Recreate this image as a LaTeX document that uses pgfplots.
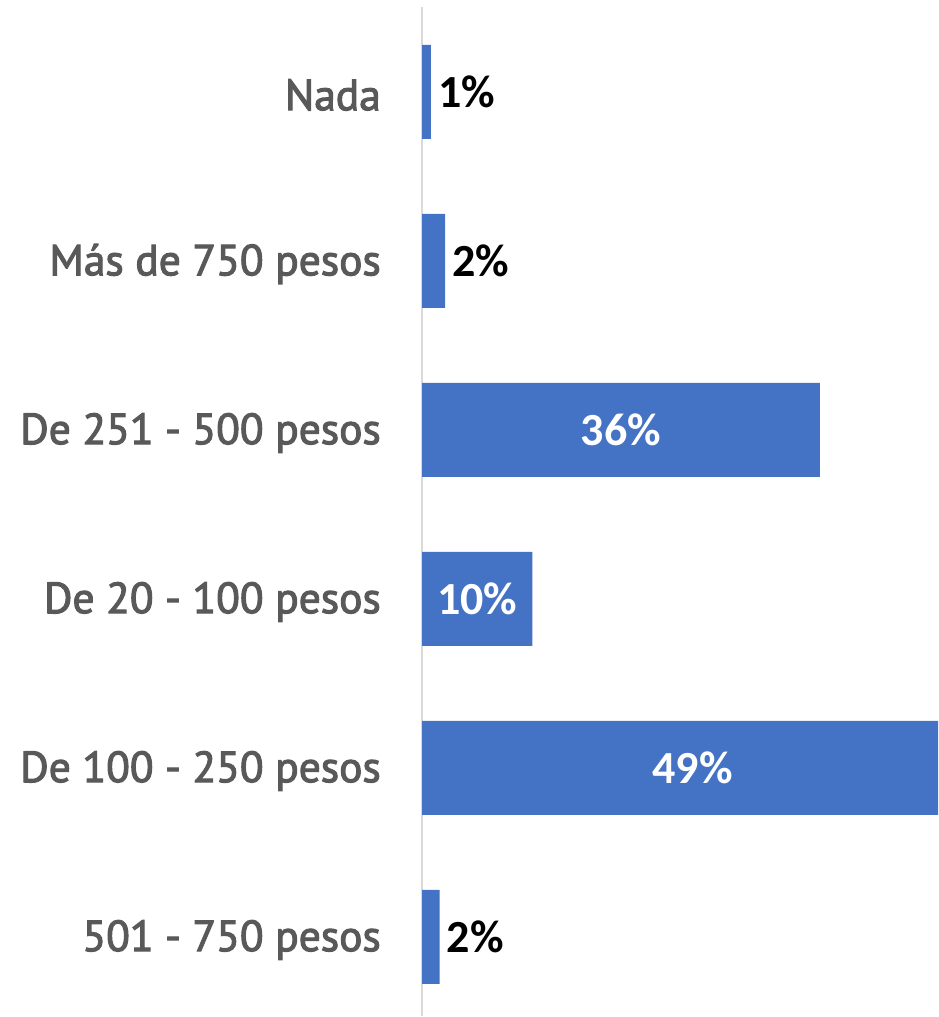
\documentclass[border=0pt]{standalone}
\usepackage{pgfplots}
\pgfplotsset{compat=1.18}
\usepackage{fontspec}
\setmainfont{PT Sans}
\newfontfamily\catfont{PT Sans}[FakeBold=2.5]
\newfontfamily\lblfont{Carlito}
\definecolor{barblue}{HTML}{4472C4}
\definecolor{txtgray}{HTML}{595959}
\definecolor{axgray}{HTML}{D9D9D9}
\begin{document}
\begin{tikzpicture}
\begin{axis}[
  name=ax,
  scale only axis,
  width=516pt, height=1008.9pt,
  xmin=0, xmax=46.7,
  ymin=-0.47, ymax=5.5,
  hide x axis,
  axis y line*=left,
  y axis line style={draw=axgray, line width=1.8pt},
  ytick={0,1,2,3,4,5},
  yticklabels={501 - 750 pesos, De 100 - 250 pesos, De 20 - 100 pesos, De 251 - 500 pesos, Más de 750 pesos, Nada},
  major tick length=0pt,
  yticklabel style={font=\catfont\fontsize{43.5}{52}\selectfont, text=txtgray, anchor=east, inner sep=0pt, xshift=-41pt, yshift=-3pt},
  clip=true,
]
\addplot[xbar, bar width=94pt, bar shift=0pt, fill=barblue, draw=none]
  coordinates {(1.6,0) (49,1) (10,2) (36,3) (2.1,4) (0.8,5)};
\addplot[only marks, mark=none, point meta=explicit symbolic,
  nodes near coords, nodes near coords align={anchor=west},
  every node near coord/.append style={font=\lblfont\bfseries\fontsize{46}{52}\selectfont, text=black, inner sep=0pt, xshift=7pt}]
  coordinates {(1.6,0) [2\%] (2.1,4) [2\%] (0.8,5) [1\%]};
\addplot[only marks, mark=none, point meta=explicit symbolic,
  nodes near coords, nodes near coords align={anchor=center},
  every node near coord/.append style={font=\lblfont\bfseries\fontsize{46}{52}\selectfont, text=white, inner sep=0pt}]
  coordinates {(24.5,1) [49\%] (5,2) [10\%] (18,3) [36\%]};
\end{axis}
\pgfresetboundingbox
\path[use as bounding box] ([xshift=-422pt,yshift=-0.6pt]ax.south west) rectangle ([yshift=7.5pt]ax.north east);
\end{tikzpicture}
\end{document}
